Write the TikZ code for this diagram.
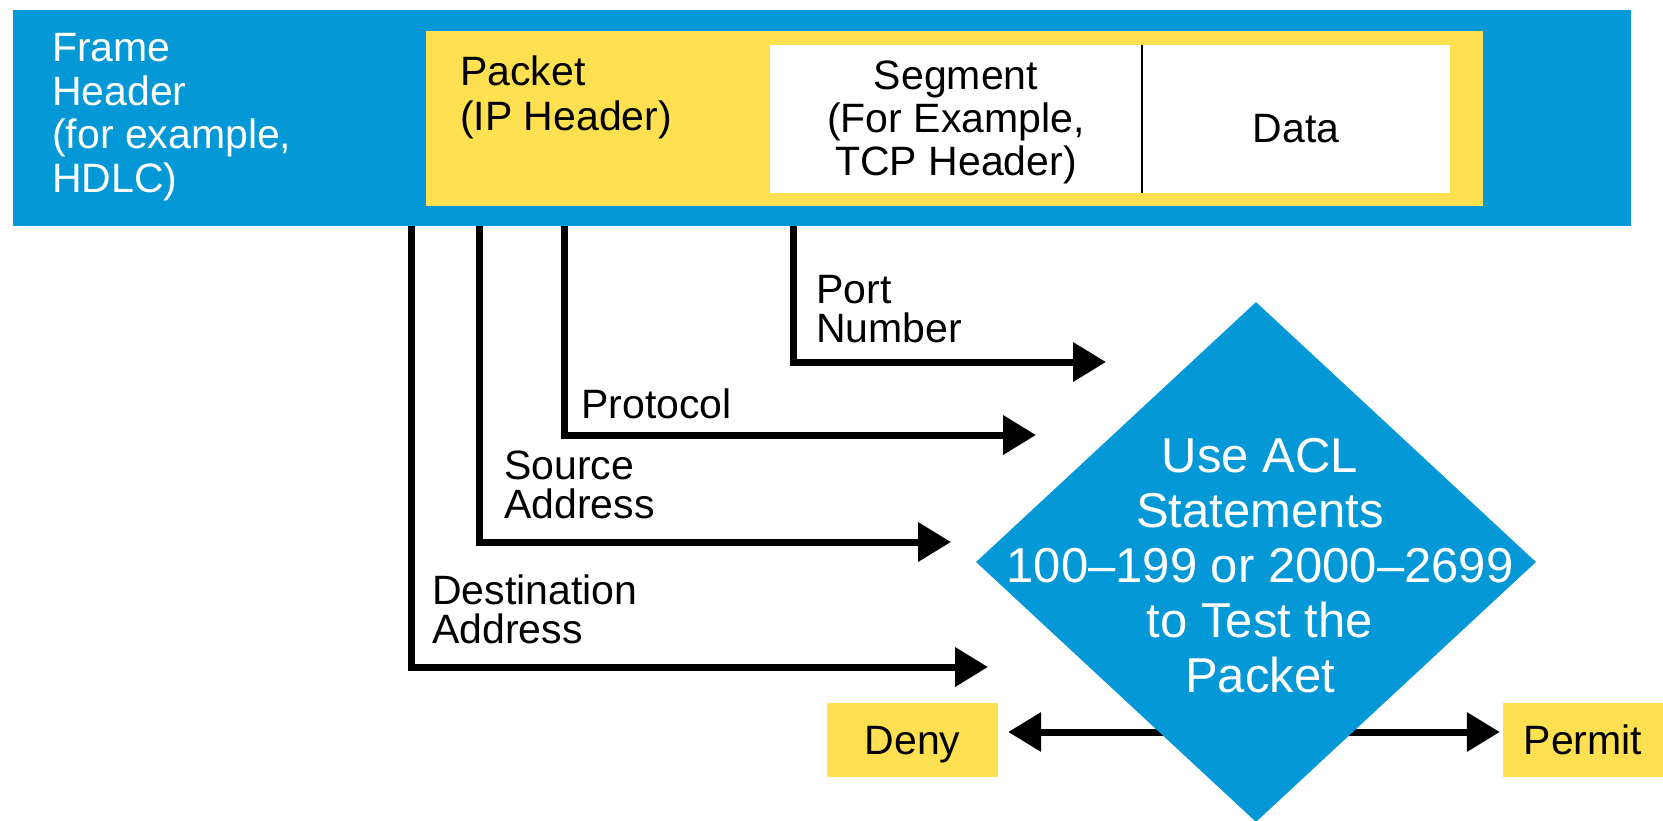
\documentclass[tikz,border=0pt]{standalone}
\usepackage{fontspec}
\setmainfont{Liberation Sans}
\usetikzlibrary{arrows.meta,shapes.geometric}
\definecolor{cblue}{RGB}{4,152,214}
\definecolor{cyel}{RGB}{254,224,80}
\begin{document}
\begin{tikzpicture}[x=1pt,y=-1pt,
  lab/.style={anchor=base west, align=left, inner sep=0pt, font=\fontsize{41}{39}\selectfont},
  arr/.style={line width=7pt, -{Triangle[length=33pt,width=38pt]}},
  flag/.style={fill=cyel, minimum height=74pt, inner sep=0pt, text height=29pt, text depth=0pt, font=\fontsize{41}{41}\selectfont},
  band/.style={anchor=north west, inner sep=0pt}]
\useasboundingbox (0,0) rectangle (1663,820);
% header bands
\node[band, fill=cblue, minimum width=1618pt, minimum height=216pt] (frame) at (13,10) {};
\node[band, fill=cyel, minimum width=1057pt, minimum height=175pt] (packet) at (426,31) {};
\node[band, fill=white, minimum width=680pt, minimum height=148pt] (segment) at (770,45) {};
\coordinate (div) at (1142,0);
\draw[line width=2pt] (segment.north -| div) -- (segment.south -| div);
% header texts (anchored at the baseline of the last line)
\node[lab, text=white, font=\fontsize{41}{43.5}\selectfont] (frametext) at (52,192) {Frame\\Header\\(for example,\\HDLC)};
\node[lab, font=\fontsize{41}{45}\selectfont] (packettext) at (460,130) {Packet\\(IP Header)};
\node[lab, anchor=base, align=center, font=\fontsize{41}{43}\selectfont] (segtext) at (956,175) {Segment\\(For Example,\\TCP Header)};
\node[lab, anchor=base] (datatext) at (1296,142) {Data};
% field labels
\node[lab] (portlab) at (816,342) {Port\\Number};
\node[lab] (protolab) at (581,418) {Protocol};
\node[lab] (srclab) at (504,518) {Source\\Address};
\node[lab] (dstlab) at (432,643) {Destination\\Address};
% arrows from header
\coordinate (xD) at (411,0);
\coordinate (xS) at (479,0);
\coordinate (xP) at (564,0);
\coordinate (xN) at (793,0);
\coordinate (tD) at (988,667);
\coordinate (tS) at (951,542);
\coordinate (tP) at (1036,435);
\coordinate (tN) at (1106,362);
\draw[arr] (frame.south -| xD) |- (tD);
\draw[arr] (frame.south -| xS) |- (tS);
\draw[arr] (frame.south -| xP) |- (tP);
\draw[arr] (frame.south -| xN) |- (tN);
% deny / permit
\node[flag, minimum width=171pt] (deny) at (912.5,740) {Deny};
\node[flag, minimum width=160pt] (permit) at (1583,740) {Permit};
\coordinate (dc) at (1256,562);
\coordinate (ay) at (0,732);
\draw[arr, shorten >=10pt] (dc |- ay) -- (deny.east |- ay);
\draw[arr, shorten >=3pt] (dc |- ay) -- (permit.west |- ay);
% decision diamond
\node[diamond, fill=cblue, minimum width=560pt, minimum height=520pt, inner sep=0pt] (acl) at (dc) {};
\node[anchor=base, align=center, inner sep=0pt, text=white, font=\fontsize{49}{55}\selectfont] (acltext) at (1260,692) {Use ACL\\Statements\\100–199 or 2000–2699\\to Test the\\Packet};
\end{tikzpicture}
\end{document}
